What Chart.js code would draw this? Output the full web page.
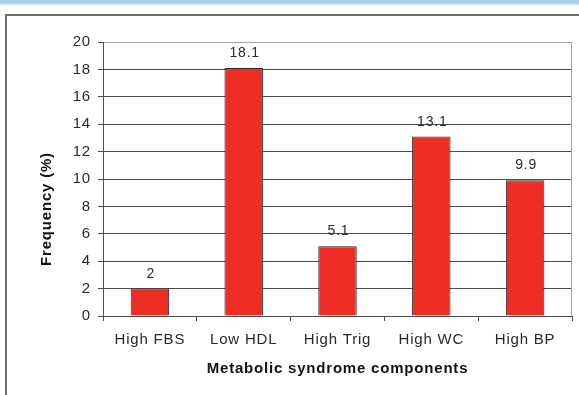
<!DOCTYPE html>
<html>
<head>
<meta charset="utf-8">
<script src="https://cdn.jsdelivr.net/npm/chart.js@4.4.1/dist/chart.umd.min.js"></script>
<style>
  html, body { margin: 0; padding: 0; background: #fff; }
  #wrap { position: relative; width: 579px; height: 395px; overflow: hidden; }
  #strip { position: absolute; left: 0; top: 0; width: 579px; height: 5px;
           background: linear-gradient(#a7d1ee 0, #a7d1ee 3px, #d6eaf7 5px); }
  #frame { position: absolute; left: 5px; top: 14px; width: 700px; height: 500px;
           border-left: 2px solid #6c6c6c; border-top: 2px solid #6c6c6c; }
  #c { position: absolute; left: 0; top: 0; }
</style>
</head>
<body>
<div id="wrap">
  <div id="strip"></div>
  <div id="frame"></div>
  <canvas id="c" width="579" height="395"></canvas>
</div>
<script>
// Prevalence of each metabolic syndrome component
const categories = ['High FBS', 'Low HDL', 'High Trig', 'High WC', 'High BP'];
const frequency = [2, 18.1, 5.1, 13.1, 9.9];
const yTicks = [0, 2, 4, 6, 8, 10, 12, 14, 16, 18, 20];

const FONT = 'Arial, "Liberation Sans", sans-serif';
const DARK = '#4e4e4e';

// Slightly widened lettering for all chart text
const spacingPlugin = {
  id: 'spacing',
  beforeDraw(chart) { chart.ctx.letterSpacing = '0.8px'; }
};

// Grey frame on the right of the plot area
const plotFrame = {
  id: 'plotFrame',
  beforeDatasetsDraw(chart) {
    const { ctx, chartArea: a } = chart;
    ctx.save();
    ctx.strokeStyle = '#a2a2a2';
    ctx.lineWidth = 1;
    ctx.beginPath();
    ctx.moveTo(Math.round(a.right) - 0.5, a.top);
    ctx.lineTo(Math.round(a.right) - 0.5, a.bottom);
    ctx.stroke();
    ctx.restore();
  }
};

// Value written above each bar
const valueLabels = {
  id: 'valueLabels',
  afterDatasetsDraw(chart) {
    const { ctx } = chart;
    const meta = chart.getDatasetMeta(0);
    ctx.save();
    ctx.font = '14px ' + FONT;
    ctx.fillStyle = '#2a2a2a';
    ctx.textAlign = 'center';
    ctx.textBaseline = 'alphabetic';
    meta.data.forEach((bar, i) => {
      ctx.fillText(String(chart.data.datasets[0].data[i]), bar.x + 1, bar.y - 11);
    });
    ctx.restore();
  }
};

// Rotated title for the value axis
const yTitle = {
  id: 'yTitle',
  afterDraw(chart) {
    const { ctx } = chart;
    ctx.save();
    ctx.translate(47, 209);
    ctx.rotate(-Math.PI / 2);
    ctx.font = 'bold 15px ' + FONT;
    ctx.fillStyle = '#111';
    ctx.textAlign = 'center';
    ctx.textBaseline = 'middle';
    ctx.fillText('Frequency (%)', 0, 0);
    ctx.restore();
  }
};

new Chart(document.getElementById('c'), {
  type: 'bar',
  data: {
    labels: categories,
    datasets: [{
      data: frequency,
      backgroundColor: '#ee2e24',
      borderColor: '#2a2a2a',
      borderWidth: 1,
      categoryPercentage: 1,
      barPercentage: 0.41
    }]
  },
  options: {
    responsive: false,
    animation: false,
    devicePixelRatio: 1,
    layout: { padding: { left: 0, right: 7, top: 42, bottom: 0 } },
    plugins: { legend: { display: false }, tooltip: { enabled: false } },
    scales: {
      x: {
        grid: { display: true, drawOnChartArea: false, drawTicks: true, tickLength: 5, color: DARK },
        border: { display: true, color: DARK, width: 1 },
        ticks: { font: { family: FONT, size: 15 }, color: '#2a2a2a', padding: 10, maxRotation: 0 },
        title: {
          display: true,
          text: 'Metabolic syndrome components',
          font: { family: FONT, size: 15, weight: 'bold' },
          color: '#111',
          padding: { top: 4, bottom: 17 }
        },
        afterFit(scale) { scale.height = 79; }
      },
      y: {
        min: 0,
        max: 20,
        afterBuildTicks(scale) { scale.ticks = yTicks.map(v => ({ value: v })); },
        grid: {
          color: (c) => (c.tick && c.tick.value === 20 ? '#a2a2a2' : DARK),
          tickColor: DARK,
          tickLength: 5,
          lineWidth: 1
        },
        border: { display: true, color: DARK, width: 1 },
        ticks: { font: { family: FONT, size: 15 }, color: '#2a2a2a', padding: 7 },
        afterFit(scale) { scale.width = 103; }
      }
    }
  },
  plugins: [spacingPlugin, plotFrame, valueLabels, yTitle]
});
</script>
</body>
</html>
